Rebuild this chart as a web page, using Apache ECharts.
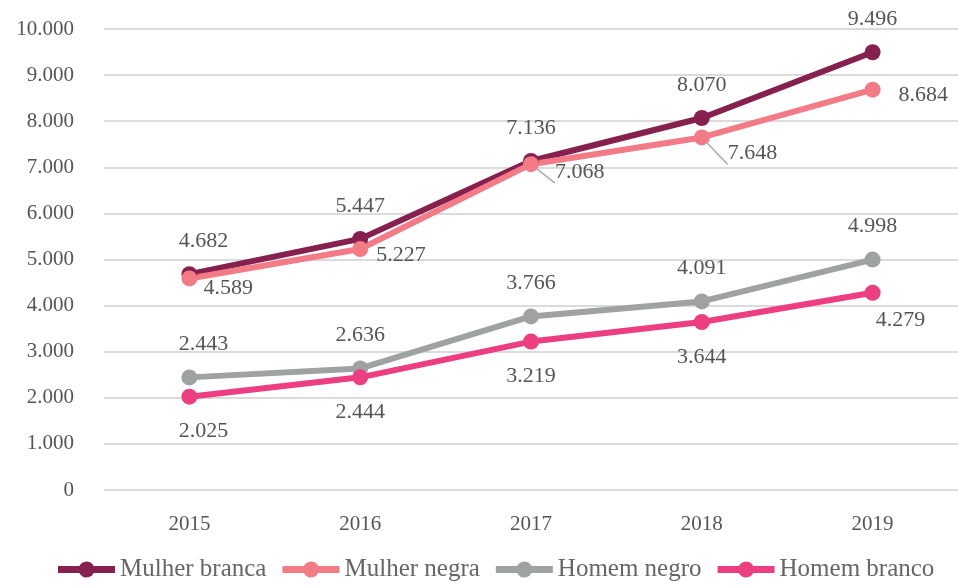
<!DOCTYPE html>
<html>
<head>
<meta charset="utf-8">
<script src="https://cdn.jsdelivr.net/npm/echarts@6/dist/echarts.min.js"></script>
<style>
  html, body { margin: 0; padding: 0; background: #fff; }
  #chart { width: 958px; height: 587px; }
</style>
</head>
<body>
<div id="chart"></div>
<script>
(function () {
  // dados --------------------------------------------------------------
  var anos = ['2015', '2016', '2017', '2018', '2019'];
  var nomes = ['Mulher branca', 'Mulher negra', 'Homem negro', 'Homem branco'];
  var mulherBranca = [4682, 5447, 7136, 8070, 9496];
  var mulherNegra  = [4589, 5227, 7068, 7648, 8684];
  var homemNegro   = [2443, 2636, 3766, 4091, 4998];
  var homemBranco  = [2025, 2444, 3219, 3644, 4279];

  var fonte = 'Liberation Serif';
  var corTexto = '#555';

  function fmt(v) {
    return String(v).replace(/\B(?=(\d{3})+(?!\d))/g, '.');
  }

  // rotulos: primeiro ano um pouco a direita
  function comOffset(valores, offsets, pos, linhas) {
    return valores.map(function (v, i) {
      if (!offsets[i]) return v;
      var lb = { offset: offsets[i] };
      if (pos) lb.position = pos;
      var item = { value: v, label: lb };
      if (linhas && linhas[i]) {
        item.labelLine = { show: true, lineStyle: { color: '#aaa', width: 1.5 } };
      }
      return item;
    });
  }

  var brancaOffsets = [[14, 0]];
  var negraOffsets = [[-2, 10], [0, 6], [8, 8], [10, 16], [10, 6]];
  var negraLinhas = [false, false, true, true, false];
  var negroOffsets = [[14, 0]];
  var brancoOffsets = [[14, 0], null, null, null, [28, -8]];

  var legTexto = { fontFamily: fonte, fontSize: 25, color: '#666' };

  function serie(nome, cor, dados, pos, dist) {
    return {
      name: nome,
      type: 'line',
      data: dados,
      symbol: 'circle',
      symbolSize: 16,
      lineStyle: { width: 6, color: cor },
      itemStyle: { color: cor },
      label: {
        show: true,
        position: pos,
        distance: dist,
        color: corTexto,
        fontFamily: fonte,
        fontSize: 22,
        formatter: function (p) { return fmt(p.value); }
      }
    };
  }

  var chart = echarts.init(document.getElementById('chart'));
  chart.setOption({
    animation: false,
    textStyle: { fontFamily: fonte },
    grid: { left: 104, right: 0, top: 29, bottom: 97 },
    legend: {
      bottom: 0,
      left: 53,
      itemWidth: 57,
      itemHeight: 16,
      itemGap: 16,
      icon: 'path://M0,4.5H21.31A8,8,0,0,1,35.69,4.5H57V11.5H35.69A8,8,0,0,1,21.31,11.5H0Z',
      textStyle: legTexto,
      data: nomes.map(function (n) { return { name: n, textStyle: legTexto }; })
    },
    xAxis: {
      type: 'category',
      data: anos,
      axisLine: { show: false },
      axisTick: { show: false },
      axisLabel: { color: corTexto, fontFamily: fonte, fontSize: 21, margin: 24 }
    },
    yAxis: {
      type: 'value',
      min: 0,
      max: 10000,
      interval: 1000,
      axisLine: { show: false },
      axisTick: { show: false },
      splitLine: { lineStyle: { color: '#cfcfcf', width: 1.5 } },
      axisLabel: {
        color: corTexto, fontFamily: fonte, fontSize: 21, margin: 30,
        formatter: function (v) { return fmt(v); }
      }
    },
    series: [
      serie(nomes[0], '#85204f', comOffset(mulherBranca, brancaOffsets), 'top', 14),
      serie(nomes[1], '#f27b86', comOffset(mulherNegra, negraOffsets, 'right', negraLinhas), 'right', 8),
      serie(nomes[2], '#9fa2a2', comOffset(homemNegro, negroOffsets), 'top', 14),
      serie(nomes[3], '#ec3e80', comOffset(homemBranco, brancoOffsets), 'bottom', 16)
    ]
  });
})();
</script>
</body>
</html>
